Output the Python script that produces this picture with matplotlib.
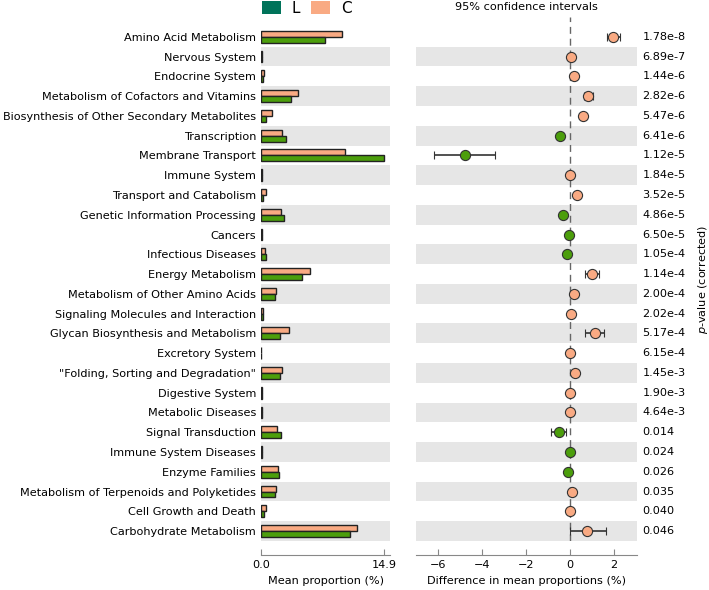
import matplotlib.pyplot as plt
import numpy as np
from matplotlib.patches import Patch

# Categories (top to bottom)
categories = [
    "Amino Acid Metabolism", "Nervous System", "Endocrine System",
    "Metabolism of Cofactors and Vitamins", "Biosynthesis of Other Secondary Metabolites",
    "Transcription", "Membrane Transport", "Immune System", "Transport and Catabolism",
    "Genetic Information Processing", "Cancers", "Infectious Diseases", "Energy Metabolism",
    "Metabolism of Other Amino Acids", "Signaling Molecules and Interaction",
    "Glycan Biosynthesis and Metabolism", "Excretory System",
    "\"Folding, Sorting and Degradation\"", "Digestive System", "Metabolic Diseases",
    "Signal Transduction", "Immune System Diseases", "Enzyme Families",
    "Metabolism of Terpenoids and Polyketides", "Cell Growth and Death",
    "Carbohydrate Metabolism",
]

# Mean proportions (%)
mean_C = [9.77, 0.12, 0.40, 4.50, 1.30, 2.50, 10.10, 0.12, 0.57, 2.42, 0.15, 0.48, 5.90,
          1.86, 0.30, 3.43, 0.06, 2.59, 0.10, 0.12, 1.90, 0.10, 2.10, 1.77, 0.57, 11.55]
mean_L = [7.75, 0.08, 0.20, 3.60, 0.65, 3.00, 14.90, 0.10, 0.25, 2.75, 0.15, 0.65, 4.93,
          1.70, 0.22, 2.26, 0.05, 2.34, 0.08, 0.10, 2.42, 0.10, 2.20, 1.70, 0.40, 10.74]

# Difference in mean proportions (C - L) and 95% CI
diff = [1.98, 0.05, 0.20, 0.83, 0.61, -0.45, -4.78, 0.02, 0.32, -0.31, -0.03, -0.15, 1.00,
        0.18, 0.03, 1.12, 0.01, 0.24, 0.01, 0.01, -0.51, -0.01, -0.10, 0.08, 0.02, 0.79]
ci_low = [1.70, 0.02, 0.12, 0.65, 0.50, -0.58, -6.17, 0.00, 0.22, -0.42, -0.06, -0.22, 0.68,
          0.10, 0.00, 0.68, -0.01, 0.12, -0.02, -0.02, -0.87, -0.04, -0.18, 0.02, -0.01, -0.01]
ci_high = [2.28, 0.08, 0.28, 1.06, 0.72, -0.32, -3.41, 0.04, 0.42, -0.20, 0.00, -0.08, 1.33,
           0.26, 0.06, 1.56, 0.03, 0.36, 0.03, 0.03, -0.16, 0.02, -0.02, 0.14, 0.05, 1.62]

p_values = ["1.78e-8", "6.89e-7", "1.44e-6", "2.82e-6", "5.47e-6", "6.41e-6", "1.12e-5",
            "1.84e-5", "3.52e-5", "4.86e-5", "6.50e-5", "1.05e-4", "1.14e-4", "2.00e-4",
            "2.02e-4", "5.17e-4", "6.15e-4", "1.45e-3", "1.90e-3", "4.64e-3", "0.014",
            "0.024", "0.026", "0.035", "0.040", "0.046"]

col_L_legend = "#00735a"
col_C = "#f9aa83"
col_L = "#4c9e0c"
band = "#e6e6e6"
spine_col = "#888888"
fs = 8.1

n = len(categories)
y = np.arange(n)
ylim = (n - 0.5, -1.0)

fig = plt.figure(figsize=(7.09, 5.9), dpi=100)
ax1 = fig.add_axes([261 / 709, 1 - 541 / 590, 129 / 709, 524 / 590])
ax2 = fig.add_axes([416 / 709, 1 - 541 / 590, 221 / 709, 524 / 590])

# background bands on alternate rows
for ax in (ax1, ax2):
    for i in range(1, n, 2):
        ax.axhspan(i - 0.5, i + 0.5, color=band, lw=0, zorder=0)

# left: bar chart
h = 0.3
ax1.barh(y - h / 2, mean_C, height=h, color=col_C, edgecolor="#222222", lw=1, zorder=2)
ax1.barh(y + h / 2, mean_L, height=h, color=col_L, edgecolor="#222222", lw=1, zorder=2)
xmax = max(max(mean_C), max(mean_L))
ax1.set_xlim(0, xmax * 1.047)
ax1.set_ylim(*ylim)
ax1.set_xticks([0, xmax])
ax1.set_xticklabels(["0.0", f"{xmax:.1f}"])
ax1.set_yticks(y)
ax1.set_yticklabels(categories, fontsize=fs)
ax1.tick_params(axis="y", length=0, pad=3.5)
ax1.set_xlabel("Mean proportion (%)", fontsize=fs, labelpad=4)

# right: difference with CI
ax2.axvline(0, color="#666666", ls=(0, (5, 3.5)), lw=1, zorder=1)
for i in range(n):
    c = col_C if diff[i] > 0 else col_L
    ax2.errorbar(diff[i], y[i], xerr=[[diff[i] - ci_low[i]], [ci_high[i] - diff[i]]],
                 fmt="o", ms=7.3, mfc=c, mec="#333333", mew=0.8, ecolor="#333333",
                 elinewidth=1.2, capsize=3, capthick=1.2, zorder=3)
ax2.set_xlim(-7.0, 3.05)
ax2.set_ylim(*ylim)
ax2.set_xticks([-6, -4, -2, 0, 2])
ax2.set_yticks([])
ax2.set_xlabel("Difference in mean proportions (%)", fontsize=fs, labelpad=4)
ax2.set_title("95% confidence intervals", fontsize=fs, pad=5)

for ax in (ax1, ax2):
    for s in ("top", "right", "left"):
        ax.spines[s].set_visible(False)
    ax.spines["bottom"].set_position(("outward", 10))
    ax.spines["bottom"].set_color(spine_col)
    ax.tick_params(axis="x", direction="in", colors=spine_col, labelcolor="black",
                   labelsize=fs, length=4, pad=4)

# p-values on right
for i in range(n):
    ax2.text(1.025, y[i], p_values[i], transform=ax2.get_yaxis_transform(),
             va="center", ha="left", fontsize=fs)
fig.text(0.992, 1 - 279 / 590, "$p$-value (corrected)", rotation=90,
         va="center", ha="center", fontsize=fs)

# legend
handles = [Patch(facecolor=col_L_legend, edgecolor="none", label="L"),
           Patch(facecolor=col_C, edgecolor="none", label="C")]
fig.legend(handles=handles, loc="upper left", bbox_to_anchor=(262 / 709, 0.999), ncol=2,
           frameon=False, fontsize=11, handlelength=1.25, handleheight=0.9,
           columnspacing=0.7, handletextpad=0.7, borderpad=0, borderaxespad=0)

fig.savefig("out.png", dpi=100)
